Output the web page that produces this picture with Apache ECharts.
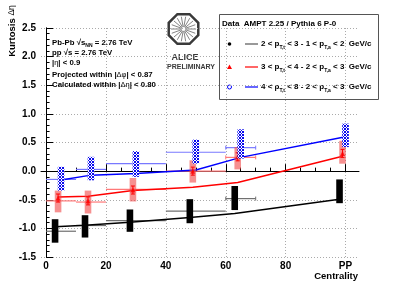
<!DOCTYPE html>
<html><head><meta charset="utf-8">
<script src="https://cdn.jsdelivr.net/npm/echarts@6/dist/echarts.min.js"></script>
<style>html,body{margin:0;padding:0;background:#fff}#c{width:399px;height:286px}</style>
</head><body><div id="c"></div>
<script>
// ---- data ----
const centrality = [5, 15, 30, 50, 65, 100];
const xTickValues = [0, 20, 40, 60, 80, 100];
const xTickLabels = ['0', '20', '40', '60', '80', 'PP'];
const xMinorValues = [5,10,15,25,30,35,45,50,55,65,70,75,85,90,95];

const blackData    = [-1.04, -0.96, -0.86, -0.70, -0.47, -0.35];
const blackSysLow  = [-1.25, -1.16, -1.06, -0.91, -0.68, -0.56];
const blackSysHigh = [-0.84, -0.77, -0.67, -0.49, -0.26, -0.145];

const redData    = [-0.47, -0.52, -0.33, 0.00, 0.25, 0.31];
const redStat    = [0.07, 0.07, 0.07, 0.07, 0.07, 0.07];
const redSysLow  = [-0.72, -0.74, -0.53, -0.20, 0.03, 0.13];
const redSysHigh = [-0.34, -0.34, -0.12, 0.19, 0.42, 0.53];

const blueData    = [-0.13, 0.045, 0.125, 0.34, 0.475, 0.625];
const blueSysLow  = [-0.34, -0.16, -0.10, 0.13, 0.22, 0.42];
const blueSysHigh = [0.075, 0.25, 0.35, 0.55, 0.73, 0.83];

const binLow  = [0, 10, 20, 40, 60];
const binHigh = [10, 20, 40, 60, 70];
const blackBins = [-1.05, -0.95, -0.865, -0.70, -0.48];
const redBins   = [-0.52, -0.54, -0.32, 0.00, 0.24];
const blueBins  = [-0.145, 0.03, 0.13, 0.33, 0.41];

const blackCurve = [-0.97, -0.945, -0.895, -0.81, -0.74, -0.49];
const redCurve   = [-0.45, -0.44, -0.34, -0.28, -0.20, 0.26];
const blueCurve  = [-0.155, -0.07, -0.04, 0.02, 0.24, 0.60];

// ---- rendering ----
const FONT = 'Liberation Sans';
const chart = echarts.init(document.getElementById('c'), null, {renderer: 'canvas'});

const off = {black: -2, red: -1, blue: 0};

// hatch pattern
const pat = document.createElement('canvas');
pat.width = 3; pat.height = 3;
(function(){
  const g = pat.getContext('2d');
  g.fillStyle = '#fff'; g.fillRect(0,0,3,3);
  g.fillStyle = '#0a0aee';
  [[0,0],[1,1],[2,2],[2,0],[0,2]].forEach(p => g.fillRect(p[0],p[1],1,1));
})();

function boxRender(style) {
  return function (params, api) {
    const p1 = api.coord([api.value(0), api.value(2)]);
    const p2 = api.coord([api.value(0), api.value(1)]);
    const hw = 3.3;
    return {type: 'rect', shape: {x: p1[0] - hw, y: p1[1], width: hw * 2, height: p2[1] - p1[1]}, style: style};
  };
}
function binRender(color) {
  return function (params, api) {
    const a = api.coord([api.value(0), api.value(2)]);
    const b = api.coord([api.value(1), api.value(2)]);
    const ch = [{type: 'line', shape: {x1: a[0], y1: a[1], x2: b[0], y2: b[1]}, style: {stroke: color, lineWidth: 1.2}}];
    if (params.dataIndex === binLow.length - 1) {
      ch.push({type: 'line', shape: {x1: a[0], y1: a[1] - 2, x2: a[0], y2: a[1] + 2}, style: {stroke: color, lineWidth: 1}});
      ch.push({type: 'line', shape: {x1: b[0], y1: b[1] - 2, x2: b[0], y2: b[1] + 2}, style: {stroke: color, lineWidth: 1}});
    }
    return {type: 'group', children: ch};
  };
}
function errRender(color) {
  return function (params, api) {
    const t = api.coord([api.value(0), api.value(2)]);
    const b = api.coord([api.value(0), api.value(1)]);
    return {type: 'group', children: [
      {type: 'line', shape: {x1: t[0], y1: t[1], x2: b[0], y2: b[1]}, style: {stroke: color, lineWidth: 1}},
      {type: 'line', shape: {x1: t[0] - 2, y1: t[1], x2: t[0] + 2, y2: t[1]}, style: {stroke: color, lineWidth: 1}},
      {type: 'line', shape: {x1: b[0] - 2, y1: b[1], x2: b[0] + 2, y2: b[1]}, style: {stroke: color, lineWidth: 1}}
    ]};
  };
}

const binSeries = (vals, color) => ({
  type: 'custom', z: 2, renderItem: binRender(color),
  encode: {x: [0, 1], y: 2},
  data: vals.map((v, i) => [binLow[i], binHigh[i], v])
});
const curveSeries = (vals, color, o) => ({
  type: 'line', z: 3, showSymbol: false, symbol: 'none',
  lineStyle: {color: color, width: 1.5}, itemStyle: {color: color},
  data: vals.map((v, i) => [centrality[i] + o, v])
});
const boxSeries = (lo, hi, o, style, z) => ({
  type: 'custom', z: z, renderItem: boxRender(style),
  encode: {x: 0, y: [1, 2]},
  data: lo.map((v, i) => [centrality[i] + o, v, hi[i]])
});

const option = {
  animation: false,
  grid: {left: 41, right: 40, top: 28, bottom: 29},
  xAxis: [{
    type: 'value', min: -1.7, max: 104.5, position: 'bottom',
    axisLine: {show: true, lineStyle: {color: '#000', width: 1}},
    axisTick: {show: true, inside: true, length: 7, customValues: xTickValues, lineStyle: {color: '#000'}},
    axisLabel: {customValues: xTickValues, margin: 4, color: '#000', fontFamily: FONT, fontWeight: 'bold', fontSize: 10,
      formatter: v => xTickLabels[xTickValues.indexOf(Math.round(v))] ?? ''},
    splitLine: {show: true, lineStyle: {color: '#aaa', type: [1, 2], width: 1}}
  }, {
    type: 'value', min: -1.7, max: 104.5, position: 'bottom',
    axisLine: {show: false},
    axisTick: {show: true, inside: true, length: 3.5, customValues: xMinorValues, lineStyle: {color: '#000'}},
    axisLabel: {show: false}, splitLine: {show: false}
  }],
  yAxis: [{
    type: 'value', min: -1.5, max: 2.5, interval: 0.5, position: 'left',
    axisLine: {show: true, lineStyle: {color: '#000', width: 1}},
    axisTick: {show: true, inside: true, length: 7, lineStyle: {color: '#000'}},
    minorTick: {show: true, splitNumber: 5, length: 3.5, lineStyle: {color: '#000'}},
    axisLabel: {margin: 5, color: '#000', fontFamily: FONT, fontWeight: 'bold', fontSize: 10, formatter: v => v.toFixed(1)},
    splitLine: {show: true, lineStyle: {color: '#aaa', type: [1, 2], width: 1}}
  }, {
    type: 'value', min: -1.5, max: 2.5, position: 'right',
    axisLine: {show: true, lineStyle: {color: '#000', width: 1}},
    axisTick: {show: false}, axisLabel: {show: false}, splitLine: {show: false}
  }],
  series: [
    binSeries(blackBins, '#707070'),
    binSeries(redBins, '#ff7878'),
    binSeries(blueBins, '#7878ff'),
    curveSeries(blackCurve, '#000', off.black),
    curveSeries(redCurve, '#ff0000', off.red),
    curveSeries(blueCurve, '#0000ff', off.blue),
    {type: 'scatter', z: 3, symbol: 'circle', symbolSize: 4, itemStyle: {color: '#000'},
      data: blackData.map((v, i) => [centrality[i] + off.black, v])},
    boxSeries(blackSysLow, blackSysHigh, off.black, {fill: '#000'}, 4),
    boxSeries(redSysLow, redSysHigh, off.red, {fill: 'rgba(240,70,70,0.6)'}, 4),
    {type: 'custom', z: 5, renderItem: errRender('#ff0000'), encode: {x: 0, y: [1, 2]},
      data: redData.map((v, i) => [centrality[i] + off.red, v - redStat[i], v + redStat[i]])},
    {type: 'scatter', z: 5, symbol: 'triangle', symbolSize: 5, itemStyle: {color: '#ff0000'},
      data: redData.map((v, i) => [centrality[i] + off.red, v])},
    boxSeries(blueSysLow, blueSysHigh, off.blue, {fill: {image: pat, repeat: 'repeat'}}, 6)
  ],
  graphic: [
    // y title
    {type: 'text', x: 12, y: 31, rotation: Math.PI / 2, z: 10,
      style: {text: '{k|Kurtosis }{g|Δη}', align: 'center', verticalAlign: 'middle',
        rich: {k: {fontFamily: FONT, fontWeight: 'bold', fontSize: 9.5, fill: '#000'},
               g: {fontFamily: FONT, fontSize: 8.5, fill: '#000'}}}},
    // x title
    {type: 'text', x: 358, y: 276, z: 10,
      style: {text: 'Centrality', align: 'right', verticalAlign: 'middle', fontFamily: FONT, fontWeight: 'bold', fontSize: 9.5, fill: '#000'}},
    // info text
    ...[
      ['{b|Pb-Pb √s}{s|NN}{b| = 2.76 TeV}', 42.7],
      ['{b|pp √s = 2.76 TeV}', 53.3],
      ['{b||}{g|η}{b|| < 0.9}', 62.7],
      ['{b|Projected within |}{g|Δφ}{b|| < 0.87}', 75],
      ['{b|Calculated within |}{g|Δη}{b|| < 0.80}', 85]
    ].map(r => ({type: 'text', x: 52, y: r[1], z: 10,
      style: {text: r[0], align: 'left', verticalAlign: 'middle',
        rich: {b: {fontFamily: FONT, fontWeight: 'bold', fontSize: 7.8, fill: '#000', lineHeight: 10},
               g: {fontFamily: FONT, fontSize: 7.5, fill: '#000', lineHeight: 10},
               s: {fontFamily: FONT, fontWeight: 'bold', fontSize: 5, fill: '#000', lineHeight: 10, verticalAlign: 'bottom'}}}})),
    // ALICE logo
    {type: 'group', z: 10, children: [
      {type: 'polygon', shape: {points: Array.from({length: 8}, (_, k) => {
          const a = Math.PI / 8 + k * Math.PI / 4; return [183.5 + 16 * Math.cos(a), 29 + 16 * Math.sin(a)]; })},
        style: {fill: 'none', stroke: '#3a3a3a', lineWidth: 2.5}},
      ...Array.from({length: 18}, (_, k) => {
        const a = k * Math.PI / 9;
        return {type: 'line', shape: {x1: 183.5 + 2 * Math.cos(a), y1: 29 + 2 * Math.sin(a), x2: 183.5 + 12.5 * Math.cos(a), y2: 29 + 12.5 * Math.sin(a)},
          style: {stroke: '#777', lineWidth: 0.9}};
      }),
      {type: 'text', x: 185, y: 58, style: {text: 'ALICE', align: 'center', verticalAlign: 'middle', fontFamily: FONT, fontWeight: 'bold', fontSize: 9, fill: '#3a3a3a'}},
      {type: 'text', x: 191, y: 67.5, style: {text: 'PRELIMINARY', align: 'center', verticalAlign: 'middle', fontFamily: FONT, fontWeight: 'bold', fontSize: 7, fill: '#3a3a3a'}}
    ]},
    // legend
    {type: 'group', z: 20, children: [
      {type: 'rect', shape: {x: 219.5, y: 14.5, width: 159, height: 85}, style: {fill: '#fff', stroke: '#555', lineWidth: 1}},
      {type: 'text', x: 222, y: 24, style: {text: 'Data  AMPT 2.25 / Pythia 6 P-0', align: 'left', verticalAlign: 'middle', fontFamily: FONT, fontWeight: 'bold', fontSize: 8, fill: '#000'}},
      {type: 'circle', shape: {cx: 229.5, cy: 44, r: 1.8}, style: {fill: '#000'}},
      {type: 'polygon', shape: {points: [[229.5, 64.5], [232, 69], [227, 69]]}, style: {fill: '#ff0000'}},
      {type: 'circle', shape: {cx: 229.5, cy: 87, r: 2}, style: {fill: 'none', stroke: '#0000ff', lineWidth: 1}},
      {type: 'line', shape: {x1: 245, y1: 44, x2: 258, y2: 44}, style: {stroke: '#555', lineWidth: 1.2}},
      {type: 'line', shape: {x1: 245, y1: 67, x2: 258, y2: 67}, style: {stroke: '#ff0000', lineWidth: 1.2}},
      {type: 'line', shape: {x1: 245, y1: 87, x2: 258, y2: 87}, style: {stroke: '#0000ff', lineWidth: 1.2}},
      ...[
        ['{a|2 < p}{s|T,t}{a| < 3 - 1 < p}{s|T,a}{a| < 2  GeV/c}', 44],
        ['{a|3 < p}{s|T,t}{a| < 4 - 2 < p}{s|T,a}{a| < 3  GeV/c}', 66.5],
        ['{a|4 < p}{s|T,t}{a| < 8 - 2 < p}{s|T,a}{a| < 3  GeV/c}', 86.5]
      ].map(r => ({type: 'text', x: 261, y: r[1], style: {text: r[0], align: 'left', verticalAlign: 'middle',
        rich: {a: {fontFamily: FONT, fontWeight: 'bold', fontSize: 8, fill: '#000', lineHeight: 13},
               s: {fontFamily: FONT, fontWeight: 'bold', fontSize: 5, fill: '#000', lineHeight: 13, verticalAlign: 'bottom'}}}}))
    ]}
  ]
};
chart.setOption(option);
</script>
</body></html>
